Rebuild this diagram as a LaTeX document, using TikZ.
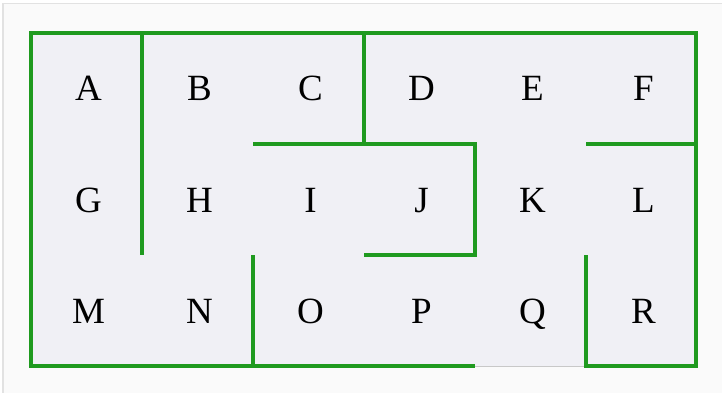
\documentclass[tikz,border=0pt]{standalone}
\usepackage{fontspec}
\setmainfont{Liberation Serif}
\definecolor{wallgreen}{HTML}{1F9A1F}
\definecolor{cellbg}{HTML}{F0F0F5}
\definecolor{pagebg}{HTML}{FAFAFA}
\definecolor{framegray}{HTML}{E2E2E2}
\definecolor{edgegray}{HTML}{C8C8C8}
\begin{document}
\begin{tikzpicture}[x=1pt,y=-1pt,
  wall/.style={draw=wallgreen,line width=4.8pt,line cap=rect,line join=miter},
  cell/.style={font=\fontsize{37}{37}\selectfont,text=black,inner sep=0pt,anchor=base}]
\useasboundingbox (0,0) rectangle (722,393);
\fill[white] (0,0) rectangle (722,393);
\fill[pagebg] (3,3) rectangle (722,393);
\draw[framegray,line width=1.5pt] (3,393) -- (3,3.5) -- (722,3.5);
\fill[cellbg] (31,33) rectangle (696,366);
\draw[edgegray,line width=1pt] (474,366) -- (586,366);
% letters
\foreach \l [count=\i from 0] in {A,B,C,D,E,F,G,H,I,J,K,L,M,N,O,P,Q,R}{
  \pgfmathtruncatemacro{\c}{mod(\i,6)}
  \pgfmathtruncatemacro{\r}{div(\i,6)}
  \node[cell] (\l) at ({31+111*\c+57.5},{33+111*\r+68}) {\l};
}
% outer walls
\draw[wall] (472.5,366) -- (31,366) -- (31,33) -- (696,33) -- (696,366) -- (586,366) -- (586,257.5);
% inner walls
\draw[wall] (142,33) -- (142,252.5);
\draw[wall] (364,33) -- (364,144);
\draw[wall] (255.5,144) -- (475,144) -- (475,255) -- (366.5,255);
\draw[wall] (588.5,144) -- (696,144);
\draw[wall] (253,257.5) -- (253,366);
\end{tikzpicture}
\end{document}
